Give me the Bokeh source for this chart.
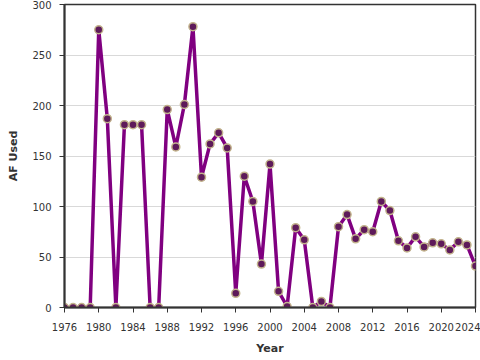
from bokeh.plotting import figure
from bokeh.models import FixedTicker, Range1d
from bokeh.embed import file_html
from bokeh.resources import INLINE

years = list(range(1976, 2025))
af_used = [0, 0, 0, 0, 275, 187, 0, 181, 181, 181,
           0, 0, 196, 159, 201, 278, 129, 162, 173, 158,
           14, 130, 105, 43, 142, 16, 1, 79, 67, 0,
           6, 0, 80, 92, 68, 77, 75, 105, 96, 66,
           59, 70, 60, 64, 63, 57, 65, 62, 41]
x_ticks = list(range(1976, 2025, 4))
y_ticks = list(range(0, 301, 50))

p = figure(width=480, height=360, output_backend="svg", toolbar_location=None,
           x_range=Range1d(1976, 2024), y_range=Range1d(0, 300),
           min_border_left=64, min_border_right=5, min_border_top=4, min_border_bottom=53)

p.line(years, af_used, line_color="#800080", line_width=3.5)
p.scatter(years, af_used, size=8, fill_color="#5e1a5a", line_color="#c2b38c", line_width=1.5)

p.xgrid.visible = False
p.ygrid.grid_line_color = "#d9d9d9"
p.ygrid.grid_line_width = 1

p.outline_line_color = "#333333"
p.outline_line_width = 1.5

for ax in (p.xaxis[0], p.yaxis[0]):
    ax.axis_line_color = "#333333"
    ax.axis_line_width = 2
    ax.major_tick_line_color = "#333333"
    ax.major_tick_out = 5
    ax.major_tick_in = 0
    ax.minor_tick_line_color = None
    ax.major_label_text_font = "DejaVu Sans"
    ax.major_label_text_font_size = "10px"
    ax.major_label_text_color = "#333333"
    ax.axis_label_text_font = "DejaVu Sans"
    ax.axis_label_text_font_size = "11px"
    ax.axis_label_text_font_style = "bold"
    ax.axis_label_text_color = "#333333"

p.xaxis[0].ticker = FixedTicker(ticks=x_ticks)
p.yaxis[0].ticker = FixedTicker(ticks=y_ticks)
p.xaxis[0].axis_label = "Year"
p.yaxis[0].axis_label = "AF Used"
p.xaxis[0].axis_label_standoff = 8
p.yaxis[0].axis_label_standoff = 9
p.xaxis[0].major_label_standoff = 10
p.yaxis[0].major_label_standoff = 8

open("out.html", "w").write(file_html(p, INLINE))
